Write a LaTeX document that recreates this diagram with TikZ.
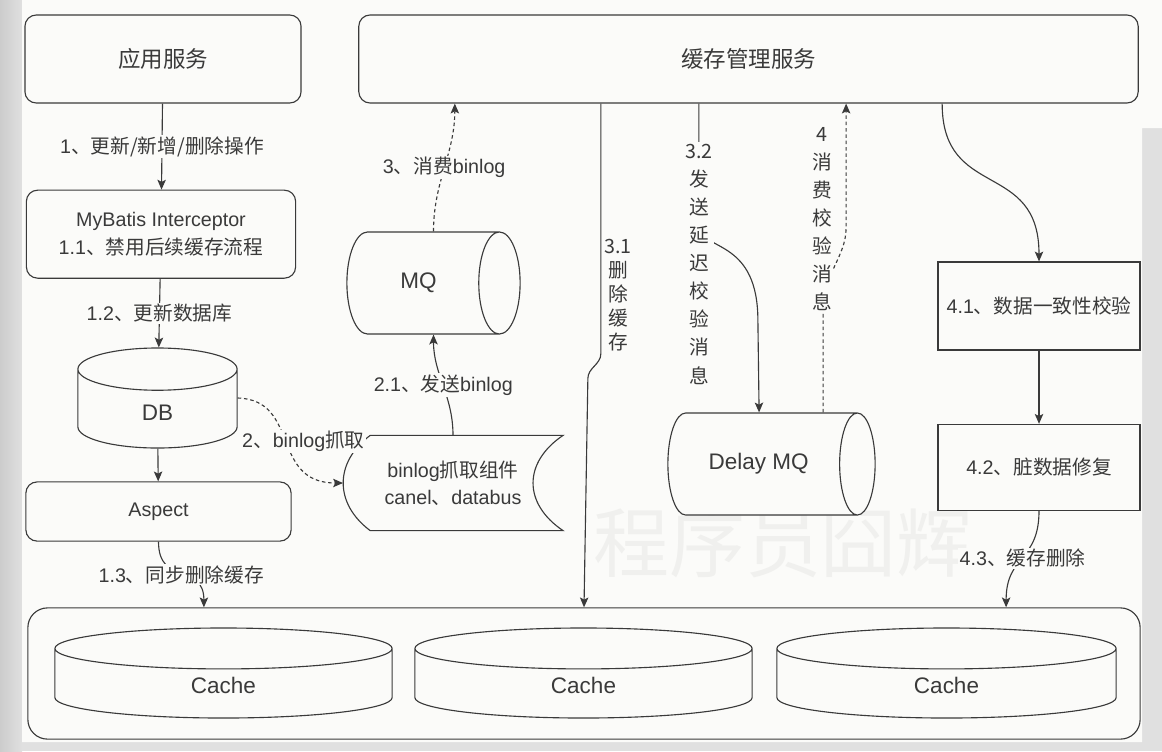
\documentclass[tikz,border=0pt]{standalone}
\usepackage{fontspec}
\setmainfont{Liberation Sans}
\newfontfamily\cjk{Noto Sans CJK SC}
\usetikzlibrary{arrows.meta,shapes.geometric,positioning}

\definecolor{paper}{RGB}{251,251,249}
\definecolor{frame}{RGB}{224,224,224}
\definecolor{ink}{RGB}{58,58,58}
\definecolor{faint}{RGB}{240,240,238}

\begin{document}
\begin{tikzpicture}[
        x=0.025cm, y=-0.025cm,
        color=ink, line width=0.8pt,
        >={Stealth[length=7pt,width=6pt,inset=1.5pt]},
        every node/.style={align=center, font=\fontsize{14}{20}\selectfont},
        box/.style={draw, rounded corners=8pt, fill=paper, minimum height=2.2cm},
        sbox/.style={draw, fill=paper, minimum width=5.05cm},
        drum/.style={draw, cylinder, fill=paper, anchor=shape center, font=\fontsize{16}{19}\selectfont},
        upright/.style={drum, shape border rotate=90},
        lab/.style={fill=paper, inner sep=1pt},
        vlab/.style={fill=paper, inner sep=1pt, font=\cjk\fontsize{14}{20}\selectfont},
        dotline/.style={dash pattern=on 2.5pt off 2pt}
    ]

    % Background
    \fill[frame] (0,0) rectangle (1162,751);
    \shade[left color=black!20, right color=frame] (0,0) rectangle (22,751);
    \fill[paper] (22,0) rectangle (1142,742) (1142,0) rectangle (1162,128);
    \useasboundingbox (0,0) rectangle (1162,751);
    \node (wm)[text=faint, font=\cjk\fontsize{54}{60}\selectfont] at (783,543) {程序员囧辉};

    % Nodes
    \node (app)[box, minimum width=6.9cm, font=\cjk\fontsize{16}{19}\selectfont] at (163,59) {应用服务};
    \node (cms)[box, minimum width=19.48cm, font=\cjk\fontsize{16}{19}\selectfont] at (748.5,59) {缓存管理服务};
    \node (mybatis)[box, below=2.15cm of app, xshift=-0.05cm, minimum width=6.73cm]
        {MyBatis Interceptor\\1.1{\cjk 、禁用后续缓存流程}};
    \node (db)[upright, aspect=1.04, minimum width=3.98cm, minimum height=2.5cm] at (157.5,398) {DB};
    \node (aop)[box, minimum width=6.63cm, minimum height=1.48cm] at (158.5,511.5) {Aspect};

    \node (mq)[drum, aspect=1.41, minimum width=2.55cm, minimum height=4.33cm] at (433.5,283) {MQ};
    \node (grab)[outer sep=0pt, minimum width=5.5cm, minimum height=2.38cm, font=\fontsize{14}{19}\selectfont] at (453,483)
        {binlog{\cjk 抓取组件}\\canel{\cjk 、}databus};
    \node (dmq)[drum, aspect=1.17, minimum width=2.55cm, minimum height=5.18cm] at (771.5,464) {Delay MQ};

    \node (check)[sbox, minimum height=2.2cm] at (1039,306) {4.1{\cjk 、数据一致性校验}};
    \node (repair)[sbox, below=1.83cm of check, minimum height=2.15cm] {4.2{\cjk 、脏数据修复}};

    \node (cachebox)[draw, fill=paper, rounded corners=14pt, minimum width=27.8cm, minimum height=3.28cm] at (584,673.5) {};
    \node (cache1)[upright, aspect=0.55, minimum width=8.43cm, minimum height=2.25cm] at (223.5,673) {Cache};
    \node (cache2)[upright, aspect=0.55, minimum width=8.43cm, minimum height=2.25cm] at (583.5,673) {Cache};
    \node (cache3)[upright, aspect=0.55, minimum width=8.48cm, minimum height=2.25cm] at (946.5,673) {Cache};

    % binlog grabber outline
    \draw ([xshift=0.68cm]grab.north west) -- (grab.north east)
        .. controls +(-40,27) and +(-40,-27) .. (grab.south east)
        -- ([xshift=0.68cm]grab.south west)
        .. controls +(-36,-27) and +(-36,27) .. ([xshift=0.68cm]grab.north west);

    % Edges
    \draw[->] (app) -- node[lab] {1{\cjk 、更新/新增/删除操作}} (mybatis);
    \draw[->] (mybatis) -- node[lab] {1.2{\cjk 、更新数据库}} (db);
    \draw[->] (db) -- (aop);
    \draw[->] (aop.south) .. controls +(0,45) and +(0,-45) .. ([xshift=-9.5cm]cachebox.north)
        node[lab, pos=.5] {1.3{\cjk 、同步删除缓存}};

    \draw[->, dotline] (db.shape center -| db.east) .. controls +(63,2) and +(-73,0) .. (grab.west)
        node[lab, pos=.5, xshift=0.42cm] {2{\cjk 、}binlog{\cjk 抓取}};
    \draw[->] (grab.north) .. controls +(0,-40) and +(0,40) .. (mq.shape center |- mq.south)
        node[lab, pos=.5] {2.1{\cjk 、发送}binlog};
    \draw[->, dotline] (mq.shape center |- mq.north) .. controls +(0,-50) and +(0,50) .. ([xshift=-7.34cm]cms.south)
        node[lab, pos=.5] {3{\cjk 、消费}binlog};

    \draw[->] ([xshift=-3.69cm]cms.south) -- ++(0,250) to[out=-90,in=90] ++(-13,25) -- (cachebox.north);
    \draw[->] ([xshift=-1.24cm]cms.south) -- ++(0,125)
        .. controls +(6,22) and +(0,-80) .. ++(59,92) -- ([xshift=-0.31cm]dmq.shape center |- dmq.north);
    \draw[->, dotline] ([xshift=1.29cm]dmq.shape center |- dmq.north) -- ++(0,-100)
        .. controls +(0,-40) and +(0,30) .. ++(23,-85) -- ([xshift=2.44cm]cms.south);

    \draw[->] ([xshift=4.84cm]cms.south) .. controls +(0,97) and +(0,-102) .. (check.north);
    \draw[->] (check) -- (repair);
    \draw[->] (repair.south) .. controls +(0,51) and +(0,-53) .. ([xshift=10.55cm]cachebox.north)
        node[lab, pos=.5] {4.3{\cjk 、缓存删除}};

    % Labels
    \node (lab31)[vlab, font=\cjk\fontsize{14}{17}\selectfont, fill=none] at (618,295) {3.1\\删\\除\\缓\\存};
    \node (lab32)[vlab] at (699,264) {3.2\\发\\送\\延\\迟\\校\\验\\消\\息};
    \node (lab4)[vlab] at (822,219) {4\\消\\费\\校\\验\\消\\息};

\end{tikzpicture}
\end{document}
